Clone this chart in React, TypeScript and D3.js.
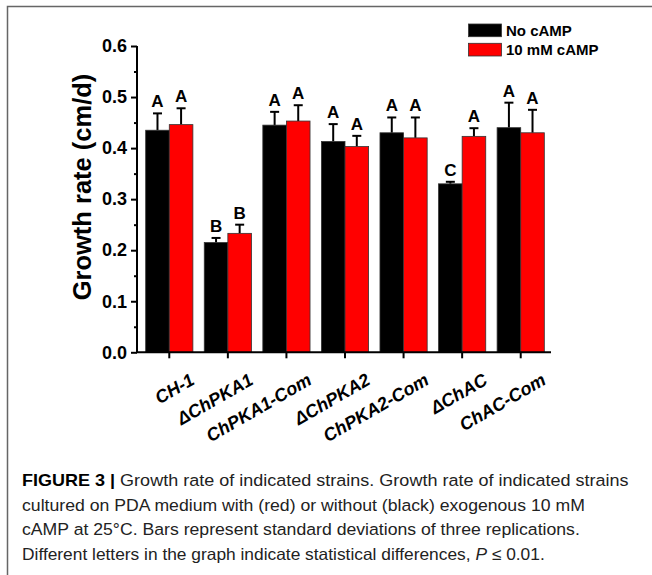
import React, { useEffect, useRef } from "react";
import * as d3 from "d3";

const strains = ["CH-1", "ΔChPKA1", "ChPKA1-Com", "ΔChPKA2", "ChPKA2-Com", "ΔChAC", "ChAC-Com"];
const seriesNames = ["No cAMP", "10 mM cAMP"];
const seriesColors = ["#000000", "#ff0000"];
const noCamp = [0.435, 0.215, 0.445, 0.413, 0.43, 0.33, 0.44];
const noCampSd = [0.033, 0.009, 0.026, 0.034, 0.03, 0.004, 0.049];
const withCamp = [0.446, 0.233, 0.453, 0.403, 0.42, 0.423, 0.43];
const withCampSd = [0.032, 0.017, 0.031, 0.021, 0.04, 0.016, 0.045];
const lettersNo = ["A", "B", "A", "A", "A", "C", "A"];
const lettersWith = ["A", "B", "A", "A", "A", "A", "A"];
const yTicks = [0, 0.1, 0.2, 0.3, 0.4, 0.5, 0.6];
const yMinorTicks = [0.05, 0.15, 0.25, 0.35, 0.45, 0.55];

// caption lines as runs: [text, bold, italic], plus the x where each line ends
const captionRuns: [string, boolean, boolean][][] = [
  [["FIGURE 3 | ", true, false], ["Growth rate of indicated strains. Growth rate of indicated strains", false, false]],
  [["cultured on PDA medium with (red) or without (black) exogenous 10 mM", false, false]],
  [["cAMP at 25°C. Bars represent standard deviations of three replications.", false, false]],
  [["Different letters in the graph indicate statistical differences, ", false, false], ["P", false, true], [" ≤ 0.01.", false, false]],
];
const captionEnds = [629, 585, 580, 545];

const W = 652;
const H = 575;

function Chart() {
  const ref = useRef<SVGSVGElement>(null);

  useEffect(() => {
    const svg = d3.select(ref.current);
    svg.selectAll("*").remove();
    const font = "Arial, 'Liberation Sans', Helvetica, sans-serif";

    // frame
    svg.append("path")
      .attr("d", `M7.5,${H} V6.5 H${W}`)
      .attr("fill", "none")
      .attr("stroke", "#666")
      .attr("stroke-width", 1.5);

    const x = d3.scaleBand().domain(strains).range([140, 550]);
    const y = d3.scaleLinear().domain([0, 0.6]).range([352.3, 46]);
    const barW = 23.6;

    const rows = strains.map((s, i) => ({
      s,
      vals: [noCamp[i], withCamp[i]],
      sds: [noCampSd[i], withCampSd[i]],
      letters: [lettersNo[i], lettersWith[i]],
    }));

    const g = svg.append("g");
    rows.forEach((r) => {
      const cx = x(r.s)! + x.bandwidth() / 2;
      r.vals.forEach((v, k) => {
        const bx = cx - barW + k * barW;
        const mid = bx + barW / 2;
        const top = y(v + r.sds[k]);
        g.append("line")
          .attr("x1", mid).attr("x2", mid)
          .attr("y1", y(v)).attr("y2", top)
          .attr("stroke", "#000").attr("stroke-width", 2);
        g.append("line")
          .attr("x1", mid - 4.5).attr("x2", mid + 4.5)
          .attr("y1", top).attr("y2", top)
          .attr("stroke", "#000").attr("stroke-width", 2);
        g.append("rect")
          .attr("x", bx).attr("y", y(v))
          .attr("width", barW).attr("height", y(0) - y(v))
          .attr("fill", seriesColors[k])
          .attr("stroke", "#333").attr("stroke-width", 0.8);
        g.append("text")
          .attr("x", mid).attr("y", top - 6)
          .attr("text-anchor", "middle")
          .style("font-family", font).style("font-weight", "bold").style("font-size", "17px")
          .text(r.letters[k]);
      });
    });

    // y axis
    const yAxis = svg.append("g").attr("transform", "translate(137,0)");
    yAxis.call(d3.axisLeft(y).tickValues(yTicks).tickSize(6).tickPadding(4).tickFormat(d3.format(".1f")));
    const yMinor = svg.append("g").attr("transform", "translate(137,0)");
    yMinor.call(d3.axisLeft(y).tickValues(yMinorTicks).tickSize(3).tickFormat(() => ""));
    yMinor.select(".domain").remove();
    [yAxis, yMinor].forEach((a) => {
      a.selectAll("line").attr("stroke", "#000").attr("stroke-width", 2);
    });
    yAxis.select(".domain").attr("d", "M0,46 V352.3").attr("stroke", "#000").attr("stroke-width", 2);
    yAxis.selectAll("text")
      .style("font-family", font).style("font-weight", "bold").style("font-size", "18px")
      .attr("fill", "#000");

    // x axis
    const xAxis = svg.append("g").attr("transform", "translate(0,352.3)");
    xAxis.call(d3.axisBottom(x).tickSize(6).tickFormat(() => ""));
    xAxis.select(".domain").attr("d", "M136,0 H551").attr("stroke", "#000").attr("stroke-width", 2);
    xAxis.selectAll("line").attr("stroke", "#000").attr("stroke-width", 2);

    svg.append("g").selectAll("text")
      .data(strains)
      .enter()
      .append("text")
      .attr("transform", (d) => `translate(${x(d)! + x.bandwidth() / 2 + 26.5},383.5) rotate(-30)`)
      .attr("text-anchor", "end")
      .style("font-family", font).style("font-weight", "bold").style("font-style", "italic")
      .style("font-size", "18px")
      .text((d) => d);

    // y title
    svg.append("text")
      .attr("transform", "translate(90.5,187) rotate(-90)")
      .attr("text-anchor", "middle")
      .style("font-family", font).style("font-weight", "bold").style("font-size", "25.5px")
      .text("Growth rate (cm/d)");

    // legend
    const leg = svg.append("g");
    seriesNames.forEach((n, i) => {
      leg.append("rect")
        .attr("x", 468.5).attr("y", 24 + i * 19.3)
        .attr("width", 33).attr("height", 12.7)
        .attr("fill", seriesColors[i])
        .attr("stroke", "#333").attr("stroke-width", 0.8);
      leg.append("text")
        .attr("x", 506).attr("y", 35.5 + i * 19.3)
        .style("font-family", font).style("font-weight", "bold").style("font-size", "15px")
        .text(n);
    });

    // caption: each line squeezed/stretched to its measured width
    const capFont = "'Liberation Sans', Arial, sans-serif";
    captionRuns.forEach((runs, i) => {
      const yy = 486 + i * 24.5;
      const txt = svg.append("text")
        .attr("x", 0).attr("y", 0)
        .style("font-family", capFont).style("font-size", "16.5px")
        .style("white-space", "pre")
        .attr("fill", "#222");
      runs.forEach(([t, bold, italic]) => {
        txt.append("tspan")
          .style("font-weight", bold ? "bold" : "normal")
          .style("font-style", italic ? "italic" : "normal")
          .attr("fill", bold ? "#000" : "#222")
          .text(t);
      });
      const len = (txt.node() as SVGTextElement).getComputedTextLength() || 1;
      const sx = (captionEnds[i] - 22) / len;
      txt.attr("transform", `translate(22,${yy}) scale(${sx},1)`);
    });
  }, []);

  return <svg ref={ref} width={W} height={H} style={{ display: "block" }} />;
}

export default function App() {
  return (
    <div style={{ position: "absolute", left: 0, top: 0, width: W, height: H, background: "#fff" }}>
      <Chart />
    </div>
  );
}
